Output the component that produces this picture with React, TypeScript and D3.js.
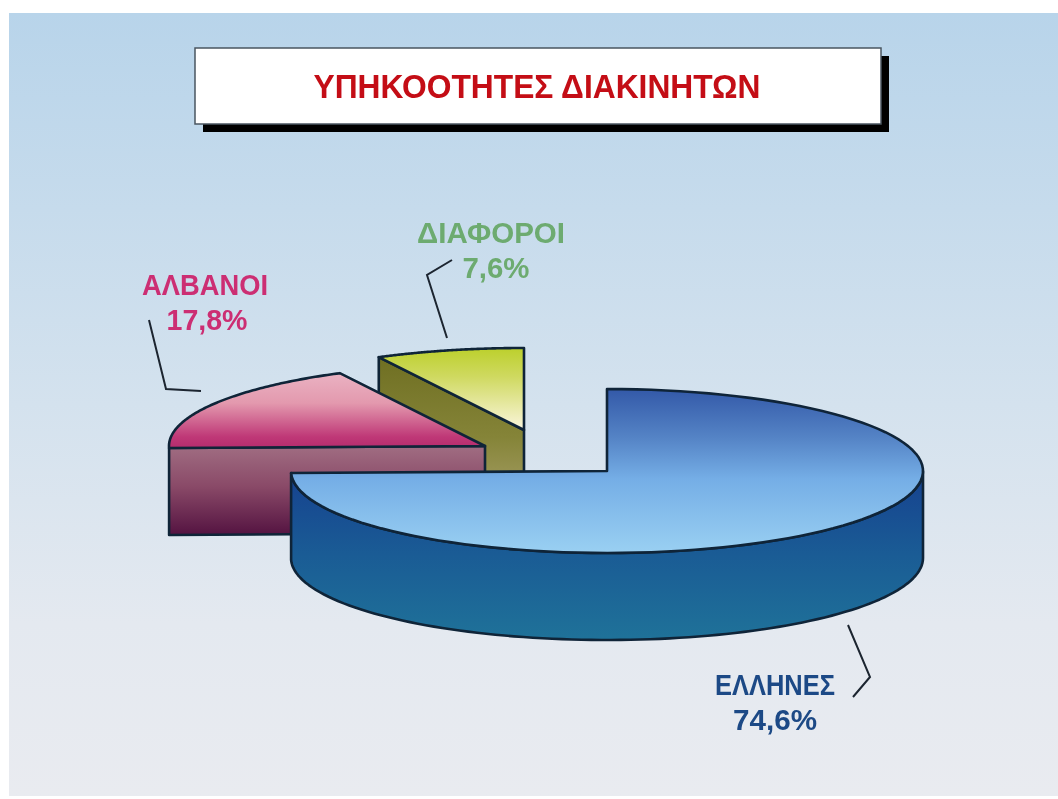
import React from "react";
import * as d3 from "d3";

const categories = ["ΕΛΛΗΝΕΣ", "ΑΛΒΑΝΟΙ", "ΔΙΑΦΟΡΟΙ"];
const values = [74.6, 17.8, 7.6];
const valueLabels = ["74,6%", "17,8%", "7,6%"];
const titleText = "ΥΠΗΚΟΟΤΗΤΕΣ ΔΙΑΚΙΝΗΤΩΝ";
const textColors = ["#1f4a86", "#cc2f73", "#6dab6f"];

const RX = 316, RY = 82, DEPTH = 87;
const centers: [number, number][] = [[607, 471], [485, 446], [524, 430]];
const FONT = "'Liberation Sans',Arial,sans-serif";

const stops: Record<string, [number, string][]> = {
  bg: [[0, "#b8d4ea"], [0.5, "#d4e2ee"], [0.78, "#e4e9f0"], [1, "#e9ebf0"]],
  blueTop: [[0, "#3359a8"], [0.3, "#5584c6"], [0.55, "#75aee6"], [1, "#9ad0f2"]],
  blueWall: [[0, "#16418f"], [0.5, "#1a5c95"], [1, "#1f7299"]],
  pinkTop: [[0, "#eab2c2"], [0.4, "#e399ae"], [0.85, "#bf3877"], [1, "#b52c6d"]],
  pinkWall: [[0, "#a06d82"], [0.45, "#8a4a68"], [1, "#541341"]],
  greenTop: [[0, "#bcd02c"], [0.35, "#cfd960"], [1, "#fbf6dd"]],
  greenWall: [[0, "#6f6f22"], [0.5, "#858438"], [1, "#aea571"]],
};

const pieGen = d3.pie<number>().sort(null).value((d) => d);
const arcs = pieGen(values);

function rimPoints(c: [number, number], a0: number, a1: number, dy = 0): [number, number][] {
  const angle = d3.scaleLinear().domain([0, 1]).range([a0, a1]);
  return d3.range(0, 1.0001, 0.01).map((t) => {
    const a = angle(t);
    return [c[0] + RX * Math.sin(a), c[1] - RY * Math.cos(a) + dy] as [number, number];
  });
}
const line = d3.line();

function topPath(i: number) {
  const a = arcs[i];
  return line([centers[i], ...rimPoints(centers[i], a.startAngle, a.endAngle)])! + "Z";
}
function outerWall(i: number) {
  const a0 = Math.max(arcs[i].startAngle, Math.PI / 2);
  const a1 = Math.min(arcs[i].endAngle, (3 * Math.PI) / 2);
  if (a1 <= a0) return "";
  return line([...rimPoints(centers[i], a0, a1), ...rimPoints(centers[i], a1, a0, DEPTH)])! + "Z";
}
function cutWall(i: number, angle: number) {
  const c = centers[i];
  const e: [number, number] = [c[0] + RX * Math.sin(angle), c[1] - RY * Math.cos(angle)];
  return line([c, e, [e[0], e[1] + DEPTH], [c[0], c[1] + DEPTH]])! + "Z";
}

const leaders: [number, number][][] = [
  [[848, 625], [870, 677], [853, 697]],
  [[149, 320], [166, 389], [201, 391]],
  [[452, 260], [427, 275], [447, 338]],
];
const labelPos: [number, number, number, number, number, number][] = [
  [775, 695, 120, 775, 730, 84],
  [205, 295, 126, 207, 330, 81],
  [491, 243, 148, 496, 278, 67],
];

export default function App() {
  const stroke = { stroke: "#0f2438", strokeWidth: 2.6, strokeLinejoin: "round" as const };
  return (
    <svg width={1058} height={799} style={{ position: "absolute", left: 0, top: 0, background: "#fff" }}>
      <defs>
        {Object.entries(stops).map(([id, s]) => (
          <linearGradient key={id} id={id} x1="0" y1="0" x2="0" y2="1">
            {s.map(([o, col]) => <stop key={o} offset={o} stopColor={col} />)}
          </linearGradient>
        ))}
        <filter id="soft" x="-5%" y="-20%" width="110%" height="140%"><feGaussianBlur stdDeviation="0.6" /></filter>
      </defs>
      <rect x={9} y={13} width={1049} height={783} fill="url(#bg)" />

      <rect x={203} y={56} width={686} height={76} fill="#000" />
      <rect x={195} y={48} width={686} height={76} fill="#fff" stroke="#4a5560" strokeWidth={1.5} />
      <text x={537} y={98} textAnchor="middle" fontFamily={FONT} fontWeight={700} fontSize={33}
        fill="#c40f14" textLength={447} lengthAdjust="spacingAndGlyphs" filter="url(#soft)">{titleText}</text>

      {/* ΔΙΑΦΟΡΟΙ */}
      <path d={cutWall(2, arcs[2].startAngle)} fill="url(#greenWall)" {...stroke} />
      <path d={topPath(2)} fill="url(#greenTop)" {...stroke} />
      {/* ΑΛΒΑΝΟΙ */}
      <path d={cutWall(1, arcs[1].startAngle)} fill="url(#pinkWall)" {...stroke} />
      <path d={topPath(1)} fill="url(#pinkTop)" {...stroke} />
      {/* ΕΛΛΗΝΕΣ */}
      <path d={outerWall(0)} fill="url(#blueWall)" {...stroke} />
      <path d={topPath(0)} fill="url(#blueTop)" {...stroke} />

      {leaders.map((pts, i) => (
        <path key={i} d={line(pts)!} fill="none" stroke="#1c2530" strokeWidth={2} />
      ))}
      {categories.map((c, i) => {
        const [x1, y1, w1, x2, y2, w2] = labelPos[i];
        return (
          <g key={c} fontFamily={FONT} fontWeight={700} fontSize={29} fill={textColors[i]} textAnchor="middle" filter="url(#soft)">
            <text x={x1} y={y1} textLength={w1} lengthAdjust="spacingAndGlyphs">{c}</text>
            <text x={x2} y={y2} textLength={w2} lengthAdjust="spacingAndGlyphs">{valueLabels[i]}</text>
          </g>
        );
      })}
    </svg>
  );
}
